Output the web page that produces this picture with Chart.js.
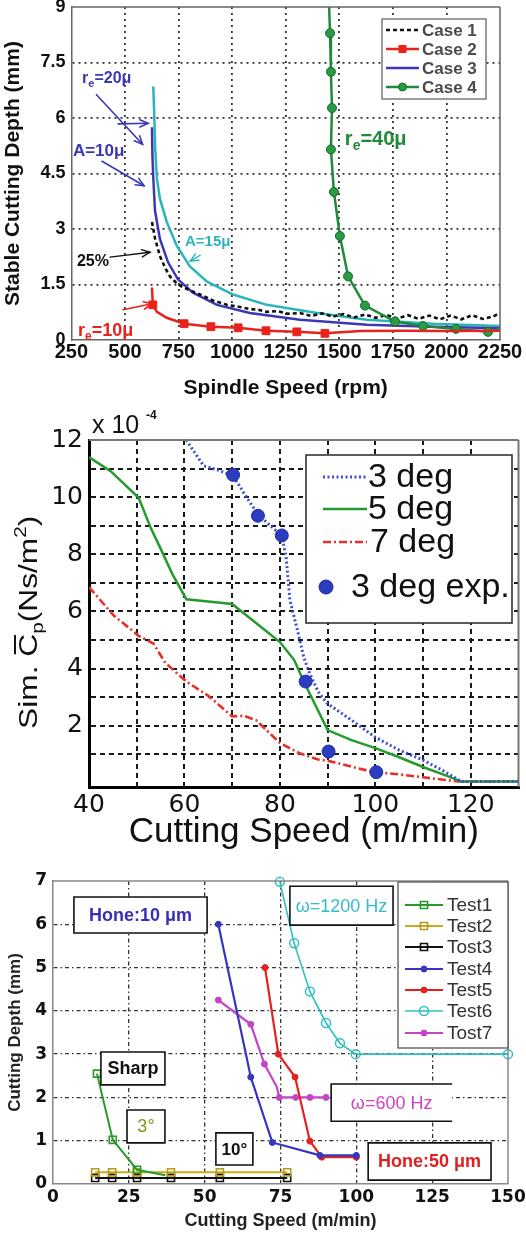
<!DOCTYPE html>
<html>
<head>
<meta charset="utf-8">
<title>Cutting stability charts</title>
<script src="https://cdn.jsdelivr.net/npm/chart.js@4.4.1/dist/chart.umd.min.js"></script>
<style>
  html, body { margin: 0; padding: 0; background: #fff; }
  #page { position: relative; width: 526px; height: 1235px; overflow: hidden; background: #fff; }
  #page canvas { position: absolute; left: 0; }
</style>
</head>
<body>
<div id="page">
  <canvas id="spindleChart" width="526" height="405" style="top:0px"></canvas>
  <canvas id="dampingChart" width="526" height="445" style="top:405px"></canvas>
  <canvas id="depthChart" width="526" height="385" style="top:850px"></canvas>
</div>
<script>
// ---------- Panel 1: stable cutting depth vs spindle speed ----------
const spindleTicks = [250, 500, 750, 1000, 1250, 1500, 1750, 2000, 2250];
const depthTicks = [0, 1.5, 3, 4.5, 6, 7.5, 9];

const case1Rpm = [626, 640, 663, 690, 710, 735, 757, 800, 850, 910, 976, 1030, 1080, 1120, 1162, 1210, 1260, 1317, 1370, 1420, 1470, 1520, 1570, 1620, 1670, 1720, 1770, 1820, 1870, 1920, 1970, 2020, 2070, 2120, 2170, 2220, 2250];
const case1Depth = [3.19, 2.75, 2.27, 1.92, 1.72, 1.57, 1.47, 1.35, 1.23, 1.07, 0.95, 0.9, 0.84, 0.82, 0.76, 0.78, 0.71, 0.73, 0.65, 0.72, 0.63, 0.7, 0.61, 0.69, 0.6, 0.68, 0.58, 0.67, 0.57, 0.66, 0.56, 0.66, 0.56, 0.67, 0.57, 0.64, 0.74];

const case2Rpm = [626, 630, 649, 695, 776, 901, 1028, 1158, 1302, 1433, 1600, 1800, 2000, 2250];
const case2Depth = [1.42, 0.95, 0.76, 0.6, 0.44, 0.36, 0.33, 0.25, 0.22, 0.18, 0.24, 0.25, 0.24, 0.25];

const case3Rpm = [626, 628, 632, 640, 663, 701, 747, 817, 929, 1083, 1317, 1629, 1937, 2250];
const case3Depth = [5.75, 5.0, 4.4, 3.5, 2.73, 2.1, 1.64, 1.28, 0.95, 0.73, 0.55, 0.41, 0.36, 0.32];

const hone15Rpm = [632, 636, 641, 649, 663, 695, 742, 803, 882, 1004, 1162, 1396, 1629, 1937, 2250];
const hone15Depth = [6.85, 6.2, 5.18, 4.36, 3.82, 3.19, 2.54, 1.99, 1.58, 1.23, 0.95, 0.73, 0.55, 0.44, 0.38];

const case4Rpm = [1450, 1457, 1461, 1466, 1461, 1475, 1503, 1541, 1620, 1760, 1891, 2045, 2194, 2250];
const case4Depth = [9.4, 8.29, 7.25, 6.27, 5.15, 4.0, 2.81, 1.72, 0.93, 0.5, 0.38, 0.3, 0.22, 0.3];

// ---------- Panel 2: simulated process damping coefficient ----------
const speedGrid = [40, 50, 60, 70, 80, 90, 100, 110, 120, 130];
const speedLabels = [40, 60, 80, 100, 120];
const cpGrid = [1, 2, 3, 4, 5, 6, 7, 8, 9, 10, 11, 12];
const cpLabels = [2, 4, 6, 8, 10, 12];

const deg3Speed = [60.4, 64, 67, 70.2, 73, 75.4, 78, 80.4, 81.3, 82.1, 83.6, 85, 86.2, 88, 89.8, 95, 100, 105, 110, 114, 118, 130];
const deg3Cp = [12, 11.1, 10.95, 10.75, 10.0, 9.4, 9.0, 8.66, 7.9, 6.4, 5.4, 4.4, 3.85, 3.2, 2.8, 2.2, 1.6, 1.15, 0.8, 0.45, 0.05, 0.05];

const deg5Speed = [40, 44.6, 50.4, 53, 55, 57.5, 60.4, 65, 70, 75, 80, 83, 85, 87.5, 90, 95, 100, 105, 110, 115, 118, 130];
const deg5Cp = [11.4, 10.9, 9.98, 8.9, 8.2, 7.3, 6.43, 6.35, 6.26, 5.6, 4.93, 4.3, 3.55, 2.7, 1.85, 1.5, 1.22, 0.9, 0.56, 0.25, 0.05, 0.05];

const deg7Speed = [40, 45.2, 50.4, 53.5, 56, 60.4, 65, 70, 72.5, 75, 80, 84, 88, 90, 98, 100, 105, 110, 117.5, 130];
const deg7Cp = [6.85, 5.86, 5.15, 4.88, 4.2, 3.55, 3.05, 2.33, 2.35, 2.2, 1.4, 1.05, 0.82, 0.78, 0.45, 0.38, 0.3, 0.2, 0.05, 0.05];

const expSpeed = [70.2, 75.4, 80.4, 85.4, 90.2, 100.2];
const expCp = [10.78, 9.35, 8.66, 3.55, 1.1, 0.38];

// ---------- Panel 3: cutting depth vs cutting speed tests ----------
const cutSpeedTicks = [0, 25, 50, 75, 100, 125, 150];
const cutDepthTicks = [0, 1, 2, 3, 4, 5, 6, 7];

const test1Speed = [14.5, 19.7, 27.7, 37];
const test1Depth = [2.55, 1.02, 0.33, 0.2];
const test2Speed = [13.9, 19.5, 27.7, 38.9, 55, 77.2];
const test2Depth = [0.27, 0.27, 0.27, 0.27, 0.27, 0.27];
const test3Speed = [13.9, 19.5, 27.7, 38.9, 55, 77.2];
const test3Depth = [0.14, 0.14, 0.14, 0.14, 0.14, 0.14];
const test4Speed = [54.5, 65.2, 72.3, 88, 100];
const test4Depth = [6.0, 2.47, 0.96, 0.66, 0.66];
const test5Speed = [69.9, 74.3, 79.8, 84.7, 88.6, 100];
const test5Depth = [5.0, 3.0, 2.47, 0.99, 0.62, 0.62];
const test6Speed = [74.8, 79.5, 84.7, 90, 94.6, 99.8, 150];
const test6Depth = [6.98, 5.56, 4.45, 3.72, 3.25, 3.0, 3.0];
const test7Speed = [54.5, 65.2, 69.7, 73.8, 74.6, 80, 84.7, 90];
const test7Depth = [4.25, 3.69, 2.77, 2.24, 2.0, 2.0, 2.0, 2.0];

// ---------- helpers ----------
const SANS = "'Liberation Sans', Arial, sans-serif";
const WIDE = "'DejaVu Sans', Verdana, sans-serif";
Chart.defaults.font.family = SANS;
Chart.defaults.color = '#111';

const pts = (xs, ys) => xs.map((x, i) => ({ x: x, y: ys[i] }));
const hideEdges = (edges, color) => c => (c.tick && edges.includes(c.tick.value)) ? 'rgba(0,0,0,0)' : color;
const setTicks = values => scale => { scale.ticks = values.map(v => ({ value: v })); };
const fixWidth = w => s => { s.width = w; s.paddingTop = 0; s.paddingBottom = 0; s.paddingLeft = 0; s.paddingRight = 0; };
const fixHeight = h => s => { s.height = h; s.paddingTop = 0; s.paddingBottom = 0; s.paddingLeft = 0; s.paddingRight = 0; };

function drawMarker(ctx, style, x, y, r, fill, stroke, bw) {
  ctx.save();
  ctx.setLineDash([]);
  ctx.lineWidth = bw;
  ctx.fillStyle = fill;
  ctx.strokeStyle = stroke;
  ctx.beginPath();
  if (style === 'rect') {
    const s = r * Math.SQRT1_2;
    ctx.rect(x - s, y - s, 2 * s, 2 * s);
  } else {
    ctx.arc(x, y, r, 0, Math.PI * 2);
  }
  ctx.fill();
  ctx.stroke();
  ctx.restore();
}

function drawLegend(chart, L) {
  const ctx = chart.ctx;
  ctx.save();
  ctx.fillStyle = '#fff';
  ctx.fillRect(L.x, L.y, L.w, L.h);
  ctx.strokeStyle = L.frameColor;
  ctx.lineWidth = L.frameWidth;
  ctx.setLineDash([]);
  ctx.strokeRect(L.x, L.y, L.w, L.h);
  L.items.forEach(it => {
    const ds = chart.data.datasets.find(d => d.label === it.label);
    if (ds.showLine !== false) {
      ctx.save();
      ctx.strokeStyle = ds.borderColor;
      ctx.lineWidth = ds.borderWidth;
      ctx.lineCap = 'butt';
      ctx.setLineDash(ds.borderDash || []);
      ctx.beginPath();
      ctx.moveTo(L.x1, it.y);
      ctx.lineTo(L.x2, it.y);
      ctx.stroke();
      ctx.restore();
    }
    if (it.marker) {
      drawMarker(ctx, it.marker, it.mx !== undefined ? it.mx : (L.x1 + L.x2) / 2, it.y, it.r,
        ds.pointBackgroundColor, ds.pointBorderColor, ds.pointBorderWidth || 1);
    }
    ctx.fillStyle = L.textColor;
    ctx.font = L.font;
    ctx.textAlign = 'left';
    ctx.textBaseline = 'middle';
    ctx.fillText(it.label, it.tx !== undefined ? it.tx : L.tx, it.y + 1);
  });
  ctx.restore();
}

function richText(ctx, x, y, parts, color) {
  ctx.fillStyle = color;
  ctx.textAlign = 'left';
  ctx.textBaseline = 'alphabetic';
  let cx = x;
  parts.forEach(p => {
    ctx.font = p.font;
    ctx.fillText(p.text, cx, y + (p.dy || 0));
    cx += ctx.measureText(p.text).width;
  });
}

function arrow(ctx, a, b, color, width) {
  ctx.save();
  ctx.strokeStyle = color;
  ctx.lineWidth = width;
  ctx.setLineDash([]);
  ctx.lineCap = 'round';
  ctx.beginPath();
  ctx.moveTo(a[0], a[1]);
  ctx.lineTo(b[0], b[1]);
  ctx.stroke();
  const ang = Math.atan2(b[1] - a[1], b[0] - a[0]);
  const L = 9, s = 0.42;
  ctx.beginPath();
  ctx.moveTo(b[0] - L * Math.cos(ang - s), b[1] - L * Math.sin(ang - s));
  ctx.lineTo(b[0], b[1]);
  ctx.lineTo(b[0] - L * Math.cos(ang + s), b[1] - L * Math.sin(ang + s));
  ctx.stroke();
  ctx.restore();
}

function frameSides(chart, sides, color, width) {
  const { ctx, chartArea: a } = chart;
  ctx.save();
  ctx.strokeStyle = color;
  ctx.lineWidth = width;
  ctx.setLineDash([]);
  ctx.beginPath();
  if (sides.includes('top')) { ctx.moveTo(a.left, a.top); ctx.lineTo(a.right, a.top); }
  if (sides.includes('right')) { ctx.moveTo(a.right, a.top); ctx.lineTo(a.right, a.bottom); }
  ctx.stroke();
  ctx.restore();
}

const common = {
  responsive: false,
  animation: false,
  devicePixelRatio: 1,
  events: [],
  plugins: { legend: { display: false }, tooltip: { enabled: false } }
};

// ---------- Panel 1 chart ----------
const spindleDecor = {
  id: 'spindleDecor',
  afterDraw(chart) {
    const { ctx, scales: { x, y } } = chart;
    const P = (vx, vy) => [x.getPixelForValue(vx), y.getPixelForValue(vy)];
    frameSides(chart, ['top', 'right'], '#666', 1.5);

    const blue = '#3a38b6', cyan = '#2bb5bb', red = '#e8231c', green = '#1f8a3a';
    ctx.save();
    let p = P(300, 6.94);
    richText(ctx, p[0], p[1], [
      { text: 'r', font: 'bold 16px ' + SANS },
      { text: 'e', font: 'bold 11px ' + SANS, dy: 4 },
      { text: '=20μ', font: 'bold 16px ' + SANS }], blue);
    arrow(ctx, P(367, 6.63), P(582, 5.29), blue, 1.6);
    arrow(ctx, P(468, 5.84), P(608, 5.86), blue, 1.6);

    p = P(257, 4.96);
    richText(ctx, p[0], p[1], [{ text: 'A=10μ', font: 'bold 17px ' + SANS }], blue);
    arrow(ctx, P(393, 4.83), P(589, 4.17), blue, 1.6);

    p = P(276, 1.99);
    richText(ctx, p[0], p[1], [{ text: '25%', font: 'bold 16px ' + SANS }], '#111');
    arrow(ctx, P(430, 2.24), P(617, 2.37), '#111', 1.4);

    p = P(780, 2.54);
    richText(ctx, p[0], p[1], [{ text: 'A=15μ', font: 'bold 15px ' + SANS }], cyan);
    arrow(ctx, P(851, 2.29), P(804, 2.13), cyan, 1.4);

    p = P(281, 0.1);
    richText(ctx, p[0], p[1], [
      { text: 'r', font: 'bold 18px ' + SANS },
      { text: 'e', font: 'bold 12px ' + SANS, dy: 4 },
      { text: '=10μ', font: 'bold 18px ' + SANS }], red);
    arrow(ctx, P(491, 0.82), P(626, 0.98), red, 1.6);

    p = P(1526, 5.26);
    richText(ctx, p[0], p[1], [
      { text: 'r', font: 'bold 20px ' + SANS },
      { text: 'e', font: 'bold 14px ' + SANS, dy: 5 },
      { text: '=40μ', font: 'bold 20px ' + SANS }], green);
    ctx.restore();

    drawLegend(chart, {
      x: 382, y: 19, w: 104, h: 80, frameColor: '#666', frameWidth: 1.3,
      x1: 386, x2: 419, tx: 422, textColor: '#4a4a4a', font: 'bold 17px ' + SANS,
      items: [
        { label: 'Case 1', y: 30 },
        { label: 'Case 2', y: 49, marker: 'rect', r: 5 },
        { label: 'Case 3', y: 68 },
        { label: 'Case 4', y: 87, marker: 'circle', r: 4 }
      ]
    });
  }
};

new Chart(document.getElementById('spindleChart'), {
  type: 'line',
  data: {
    datasets: [
      { label: 'Case 2', data: pts(case2Rpm, case2Depth), borderColor: '#e8231c', borderWidth: 2.5,
        pointStyle: 'rect', pointBackgroundColor: '#e8231c', pointBorderColor: '#e8231c', pointBorderWidth: 1,
        pointRadius: c => [1, 4, 5, 6, 7, 8, 9].includes(c.dataIndex) ? 5.5 : 0 },
      { label: 'Case 4', data: pts(case4Rpm, case4Depth), borderColor: '#1f8a3a', borderWidth: 2.5,
        pointStyle: 'circle', pointBackgroundColor: '#2a9a44', pointBorderColor: '#156b2b', pointBorderWidth: 1,
        pointRadius: c => (c.dataIndex > 0 && c.dataIndex < 13) ? 4.5 : 0 },
      { label: 'Case 1', data: pts(case1Rpm, case1Depth), borderColor: '#111', borderWidth: 2.6,
        borderDash: [4, 3], pointRadius: 0 },
      { label: 'Case 3', data: pts(case3Rpm, case3Depth), borderColor: '#3a38b6', borderWidth: 2.5, pointRadius: 0 },
      { label: 'A=15μ', data: pts(hone15Rpm, hone15Depth), borderColor: '#2bb5bb', borderWidth: 2.5, pointRadius: 0 }
    ]
  },
  options: Object.assign({}, common, {
    layout: { padding: { top: 7, right: 26, left: 0, bottom: 0 } },
    scales: {
      x: {
        type: 'linear', min: 250, max: 2250,
        afterBuildTicks: setTicks(spindleTicks), afterFit: fixHeight(65),
        grid: { color: hideEdges([250, 2250], '#333'), lineWidth: 1.8, drawTicks: false },
        border: { color: '#666', width: 1.5, dash: [2, 4] },
        ticks: { padding: 0, autoSkip: false, maxRotation: 0, callback: v => String(v),
          font: { family: SANS, size: 20, weight: 'bold' }, color: '#111' },
        title: { display: true, text: 'Spindle Speed (rpm)', color: '#111',
          font: { family: SANS, size: 21, weight: 'bold' }, padding: { top: 0, bottom: 4 } }
      },
      y: {
        type: 'linear', min: 0, max: 9,
        afterBuildTicks: setTicks(depthTicks), afterFit: fixWidth(71.4),
        grid: { color: hideEdges([0, 9], '#333'), lineWidth: 1.8, drawTicks: false },
        border: { color: '#666', width: 1.5, dash: [2, 4] },
        ticks: { padding: 6, autoSkip: false, callback: v => String(v),
          font: { family: SANS, size: 18, weight: 'bold' }, color: '#111' },
        title: { display: true, text: 'Stable Cutting Depth (mm)', color: '#111',
          font: { family: SANS, size: 21, weight: 'bold' }, padding: { top: 1, bottom: 0 } }
      }
    }
  }),
  plugins: [spindleDecor]
});

// ---------- Panel 2 chart ----------
const dampingDecor = {
  id: 'dampingDecor',
  afterDraw(chart) {
    const ctx = chart.ctx;
    frameSides(chart, ['top', 'right'], '#777', 2);

    // exponent label above the value axis
    ctx.save();
    ctx.fillStyle = '#111';
    ctx.textAlign = 'left';
    ctx.textBaseline = 'middle';
    ctx.font = '25px ' + SANS;
    ctx.fillText('x 10', 92, 21);
    ctx.font = 'bold 12px ' + SANS;
    ctx.fillText('-4', 146, 11);
    ctx.restore();

    // rotated value-axis title with overline, subscript and superscript
    ctx.save();
    ctx.translate(37, 324);
    ctx.rotate(-Math.PI / 2);
    ctx.scale(1.22, 1);
    ctx.fillStyle = '#111';
    ctx.textAlign = 'left';
    ctx.textBaseline = 'alphabetic';
    const big = '26px ' + SANS, small = '17px ' + SANS;
    let cx = 0;
    const put = (t, f, dy) => { ctx.font = f; ctx.fillText(t, cx, dy || 0); const w = ctx.measureText(t).width; cx += w; return w; };
    put('Sim. ', big);
    const cStart = cx;
    const cw = put('C', big);
    ctx.fillRect(cStart + 2, -23, cw - 3, 2);
    put('p', small, 6);
    put('(Ns/m', big);
    put('2', small, -11);
    put(')', big);
    ctx.restore();

    drawLegend(chart, {
      x: 306, y: 50, w: 206, h: 168, frameColor: '#333', frameWidth: 1.6,
      x1: 323, x2: 367, tx: 368, textColor: '#111', font: '34px ' + SANS,
      items: [
        { label: '3 deg', y: 72 },
        { label: '5 deg', y: 104 },
        { label: '7 deg', y: 137, tx: 370 },
        { label: '3 deg exp.', y: 182, tx: 351, marker: 'circle', r: 7, mx: 326 }
      ]
    });
  }
};

new Chart(document.getElementById('dampingChart'), {
  type: 'line',
  data: {
    datasets: [
      { label: '3 deg exp.', data: pts(expSpeed, expCp), showLine: false, borderColor: '#2a3ab8',
        pointStyle: 'circle', pointRadius: 6.5, pointBackgroundColor: '#2b3cc0', pointBorderColor: '#22309a', pointBorderWidth: 1 },
      { label: '3 deg', data: pts(deg3Speed, deg3Cp), borderColor: '#3d4fd0', borderWidth: 3,
        borderDash: [2, 2.5], borderCapStyle: 'butt', pointRadius: 0 },
      { label: '5 deg', data: pts(deg5Speed, deg5Cp), borderColor: '#259a2e', borderWidth: 2.5, pointRadius: 0 },
      { label: '7 deg', data: pts(deg7Speed, deg7Cp), borderColor: '#e8302a', borderWidth: 2.6,
        borderDash: [8, 3, 2, 3], pointRadius: 0 }
    ]
  },
  options: Object.assign({}, common, {
    layout: { padding: { top: 35, right: 1, left: 0, bottom: 0 } },
    scales: {
      x: {
        type: 'linear', min: 40, max: 130,
        afterBuildTicks: setTicks(speedGrid), afterFit: fixHeight(63),
        grid: { color: hideEdges([40, 130], '#1a1a1a'), lineWidth: 2, drawTicks: false },
        border: { color: '#000', width: 3, dash: [5, 4] },
        ticks: { padding: 3, autoSkip: false, maxRotation: 0,
          callback: v => speedLabels.includes(v) ? String(v) : '',
          font: { family: WIDE, size: 25 }, color: '#111' },
        title: { display: true, text: 'Cutting Speed (m/min)', color: '#111',
          font: { family: SANS, size: 35, lineHeight: 1 }, padding: { top: 0, bottom: 0 } }
      },
      y: {
        type: 'linear', min: -0.14, max: 12,
        afterBuildTicks: setTicks(cpGrid), afterFit: fixWidth(89),
        grid: { color: hideEdges([12], '#1a1a1a'), lineWidth: 2, drawTicks: false },
        border: { color: '#000', width: 3, dash: [5, 4] },
        ticks: { padding: 6, autoSkip: false,
          callback: v => cpLabels.includes(v) ? String(v) : '',
          font: { family: WIDE, size: 25 }, color: '#111' }
      }
    }
  }),
  plugins: [dampingDecor]
});

// ---------- Panel 3 chart ----------
const depthDecor = {
  id: 'depthDecor',
  afterDraw(chart) {
    const { ctx, scales: { x, y } } = chart;
    frameSides(chart, ['top', 'right'], '#888', 1.5);

    const box = (x1, x2, yTop, yBot, text, font, color, openRight) => {
      const l = x.getPixelForValue(x1), r = x.getPixelForValue(x2);
      const t = y.getPixelForValue(yTop), b = y.getPixelForValue(yBot);
      ctx.save();
      ctx.fillStyle = '#fff';
      ctx.fillRect(l, t, r - l, b - t);
      ctx.strokeStyle = '#111';
      ctx.lineWidth = 1.6;
      ctx.setLineDash([]);
      ctx.beginPath();
      if (openRight) {
        ctx.moveTo(r, t); ctx.lineTo(l, t); ctx.lineTo(l, b); ctx.lineTo(r, b);
      } else {
        ctx.rect(l, t, r - l, b - t);
      }
      ctx.stroke();
      ctx.fillStyle = color;
      ctx.font = font;
      ctx.textAlign = 'center';
      ctx.textBaseline = 'middle';
      ctx.fillText(text, (l + r) / 2, (t + b) / 2 + 1);
      ctx.restore();
    };
    box(6.9, 50.8, 6.63, 5.80, 'Hone:10 μm', 'bold 18px ' + SANS, '#3a2fb4');
    box(78.1, 112.1, 6.88, 5.98, 'ω=1200 Hz', '18px ' + SANS, '#35bccb');
    box(15.8, 36.9, 3.05, 2.29, 'Sharp', 'bold 18px ' + SANS, '#111');
    box(24.4, 36.9, 1.71, 0.95, '3°', '18px ' + SANS, '#7f9a1a');
    box(53.7, 65.9, 1.18, 0.44, '10°', 'bold 17px ' + SANS, '#111');
    box(91.7, 131.6, 2.31, 1.45, 'ω=600 Hz', '18px ' + SANS, '#d040c8', true);
    box(103.9, 144.4, 0.95, 0.09, 'Hone:50 μm', 'bold 18px ' + SANS, '#e02020');

    drawLegend(chart, {
      x: 398, y: 32, w: 110, h: 166, frameColor: '#555', frameWidth: 1.3,
      x1: 405, x2: 443, tx: 447, textColor: '#333', font: '19px ' + SANS,
      items: [
        { label: 'Test1', y: 55, marker: 'rect', r: 5 },
        { label: 'Test2', y: 76, marker: 'rect', r: 5 },
        { label: 'Tost3', y: 97, marker: 'rect', r: 5 },
        { label: 'Test4', y: 119, marker: 'circle', r: 3 },
        { label: 'Test5', y: 140, marker: 'circle', r: 3 },
        { label: 'Test6', y: 161, marker: 'circle', r: 4.5 },
        { label: 'Tost7', y: 183, marker: 'circle', r: 3 }
      ]
    });
  }
};

const hollow = 'rgba(255,255,255,0)';
new Chart(document.getElementById('depthChart'), {
  type: 'line',
  data: {
    datasets: [
      { label: 'Test1', data: pts(test1Speed, test1Depth), borderColor: '#2a9a2a', borderWidth: 2,
        pointStyle: 'rect', pointBackgroundColor: hollow, pointBorderColor: '#2a9a2a', pointBorderWidth: 1.6,
        pointRadius: c => c.dataIndex < 3 ? 5 : 0 },
      { label: 'Test2', data: pts(test2Speed, test2Depth), borderColor: '#c8ac1e', borderWidth: 2,
        pointStyle: 'rect', pointBackgroundColor: hollow, pointBorderColor: '#b89c18', pointBorderWidth: 1.6, pointRadius: 5 },
      { label: 'Tost3', data: pts(test3Speed, test3Depth), borderColor: '#111', borderWidth: 2,
        pointStyle: 'rect', pointBackgroundColor: hollow, pointBorderColor: '#111', pointBorderWidth: 1.6, pointRadius: 5 },
      { label: 'Test4', data: pts(test4Speed, test4Depth), borderColor: '#3535c0', borderWidth: 2.2,
        pointStyle: 'circle', pointBackgroundColor: '#3535c0', pointBorderColor: '#3535c0', pointBorderWidth: 1, pointRadius: 3 },
      { label: 'Test5', data: pts(test5Speed, test5Depth), borderColor: '#e62020', borderWidth: 2.2,
        pointStyle: 'circle', pointBackgroundColor: '#e62020', pointBorderColor: '#e62020', pointBorderWidth: 1, pointRadius: 3 },
      { label: 'Test6', data: pts(test6Speed, test6Depth), borderColor: '#30c0c0', borderWidth: 1.6, clip: 8,
        pointStyle: 'circle', pointBackgroundColor: hollow, pointBorderColor: '#30c0c0', pointBorderWidth: 1.5, pointRadius: 4.5 },
      { label: 'Tost7', data: pts(test7Speed, test7Depth), borderColor: '#c444c8', borderWidth: 2.2,
        pointStyle: 'circle', pointBackgroundColor: '#c444c8', pointBorderColor: '#c444c8', pointBorderWidth: 1,
        pointRadius: c => c.dataIndex === 3 ? 0 : 3 }
    ]
  },
  options: Object.assign({}, common, {
    layout: { padding: { top: 31, right: 18, left: 0, bottom: 0 } },
    scales: {
      x: {
        type: 'linear', min: 0, max: 150,
        afterBuildTicks: setTicks(cutSpeedTicks), afterFit: fixHeight(51),
        grid: { color: hideEdges([0, 150], '#333'), lineWidth: 1.3, drawTicks: false },
        border: { color: '#888', width: 1.5, dash: [4, 3, 1.5, 3] },
        ticks: { padding: 3, autoSkip: false, maxRotation: 0, callback: v => String(v),
          font: { family: WIDE, size: 17, weight: 'bold' }, color: '#111' },
        title: { display: true, text: 'Cutting Speed (m/min)', color: '#222',
          font: { family: SANS, size: 18, weight: 'bold' }, padding: { top: 0, bottom: 3 } }
      },
      y: {
        type: 'linear', min: 0, max: 7,
        afterBuildTicks: setTicks(cutDepthTicks), afterFit: fixWidth(53),
        grid: { color: hideEdges([0, 7], '#333'), lineWidth: 1.3, drawTicks: false },
        border: { color: '#888', width: 1.5, dash: [4, 3, 1.5, 3] },
        ticks: { padding: 6, autoSkip: false, callback: v => String(v),
          font: { family: WIDE, size: 17, weight: 'bold' }, color: '#111' },
        title: { display: true, text: 'Cutting Depth (mm)', color: '#222',
          font: { family: SANS, size: 17, weight: 'bold' }, padding: { top: 5, bottom: 0 } }
      }
    }
  }),
  plugins: [depthDecor]
});
</script>
</body>
</html>
